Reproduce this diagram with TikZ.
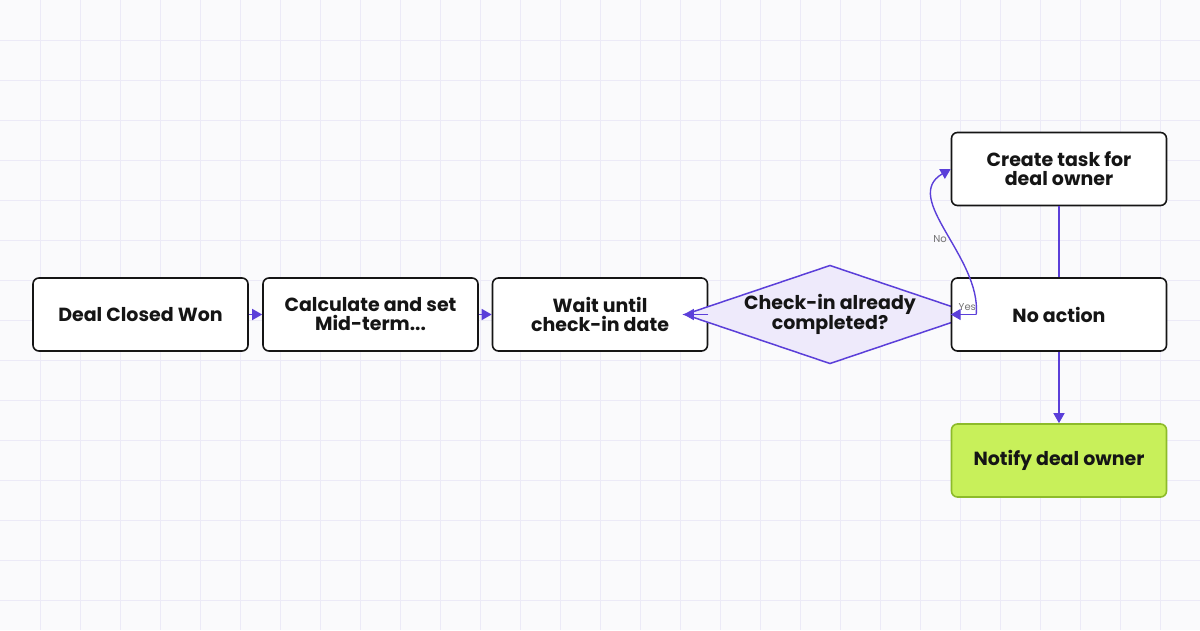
\documentclass[tikz,border=0pt]{standalone}
\usepackage{fontspec}
\setmainfont{Poppins}
\usetikzlibrary{shapes.geometric,arrows.meta}
\definecolor{flow}{HTML}{5B3FD9}
\definecolor{gridc}{HTML}{ECEAF7}
\definecolor{bgc}{HTML}{FAFAFC}
\definecolor{ink}{HTML}{151515}
\definecolor{lime}{HTML}{C8F05A}
\definecolor{limeb}{HTML}{8DBB2A}
\definecolor{dfill}{HTML}{EEEAFB}
\tikzset{
  stage/.style={draw=ink, line width=1.6pt, rounded corners=6pt, fill=white,
    minimum width=215pt, minimum height=73pt, align=center,
    font=\fontsize{19}{19}\selectfont\bfseries, text=ink, inner sep=1pt},
  check/.style={diamond, draw=flow, line width=1.5pt, fill=dfill, aspect=2.95,
    minimum width=235pt, minimum height=80pt, inner sep=0pt, align=center,
    font=\fontsize{19}{19}\selectfont\bfseries, text=ink},
  link/.style={draw=flow, line width=1.4pt, -{Triangle[length=10pt,width=11pt]}},
  tag/.style={font=\fontsize{10}{10}\selectfont, text=black!55}
}
\begin{document}
\begin{tikzpicture}[x=1pt,y=-1pt]
  \fill[bgc] (0,0) rectangle (1200,630);
  \useasboundingbox (0,0) rectangle (1200,630);
  \foreach \gx in {40,80,...,1160} \draw[gridc, line width=0.8pt] (\gx,0) -- (\gx,630);
  \foreach \gy in {40,80,...,600} \draw[gridc, line width=0.8pt] (0,\gy) -- (1200,\gy);
  \node[stage] (deal) at (140.5,314.5) {Deal Closed Won};
  \node[stage] (calc) at (370.5,314.5) {Calculate and set\\Mid-term...};
  \node[stage] (wait) at (600,314.5) {Wait until\\check-in date};
  \node[check] (done) at (830,314.5) {Check-in already\\completed?};
  \node[stage] (task) at (1059,169) {Create task for\\deal owner};
  \node[stage] (none) at (1059,314.5) {No action};
  \node[stage, fill=lime, draw=limeb] (notify) at (1059,460.5) {Notify deal owner};
  \draw[link] (deal) -- (calc);
  \draw[link] (calc) -- (wait);
  \draw[link] (wait) -- (done);
  \draw[link] (done.east) -- node[tag, pos=0.35, above] {Yes} (none);
  \draw[link] (done.east) to[out=85, in=-150] node[tag, pos=0.45, left] {No} (task.west);
  \draw[draw=flow, line width=1.4pt] (task) -- (none);
  \draw[link] (none) -- (notify);
\end{tikzpicture}
\end{document}
